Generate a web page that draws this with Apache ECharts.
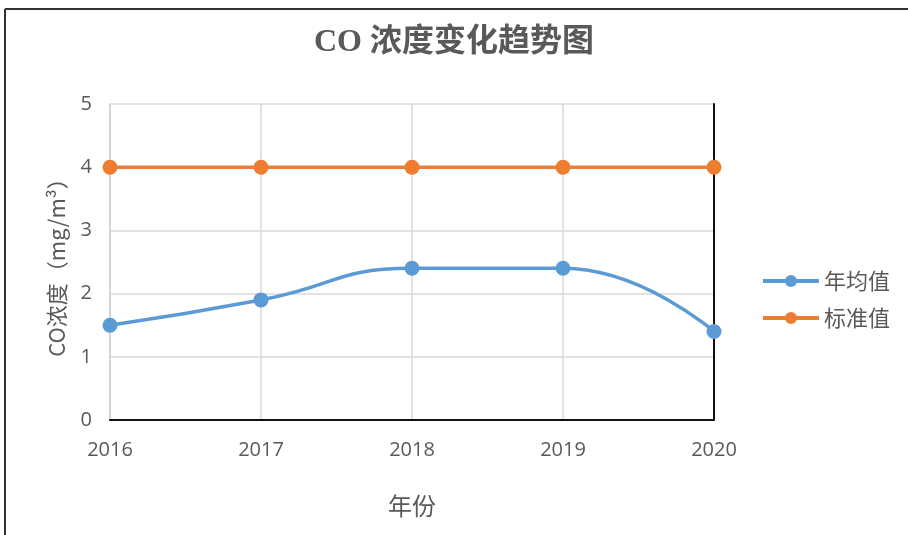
<!DOCTYPE html>
<html>
<head>
<meta charset="utf-8">
<script src="https://cdn.jsdelivr.net/npm/echarts@6/dist/echarts.min.js"></script>
<style>
html,body{margin:0;padding:0;background:#fff;}
#chart{width:908px;height:535px;}
</style>
</head>
<body>
<div id="chart"></div>
<script>
var years = ['2016', '2017', '2018', '2019', '2020'];
var annualAvg = [1.5, 1.9, 2.4, 2.4, 1.4];
var standard = [4, 4, 4, 4, 4];

var myChart = echarts.init(document.getElementById('chart'));
var txt = '#595959';
var cjk = "'Noto Sans CJK SC', sans-serif";

myChart.setOption({
    animation: false,
    title: {
        text: 'CO 浓度变化趋势图',
        left: 'center',
        top: 22,
        textStyle: {
            fontFamily: "'Liberation Serif', 'Noto Sans CJK SC', serif",
            fontSize: 32,
            fontWeight: 'bold',
            color: txt
        }
    },
    legend: {
        orient: 'vertical',
        left: 756,
        top: 265,
        itemWidth: 56,
        itemHeight: 15,
        itemGap: 15,
        lineStyle: {width: 4},
        textStyle: {fontFamily: cjk, fontSize: 22, color: txt},
        data: ['年均值', '标准值']
    },
    graphic: [
        {type: 'line', shape: {x1: 5, y1: 9, x2: 908, y2: 9}, style: {stroke: '#333', lineWidth: 2}},
        {type: 'line', shape: {x1: 5, y1: 9, x2: 5, y2: 535}, style: {stroke: '#333', lineWidth: 2}}
    ],
    grid: {left: 110, right: 194, top: 104, bottom: 115},
    xAxis: [{
        type: 'category',
        data: years,
        boundaryGap: false,
        name: '年份',
        nameLocation: 'middle',
        nameGap: 74,
        nameTextStyle: {fontFamily: cjk, fontSize: 24, color: txt},
        axisLine: {lineStyle: {color: '#d0d0d0', width: 1.5}},
        axisTick: {show: false},
        axisLabel: {fontFamily: "'Open Sans', sans-serif", fontSize: 20, color: txt, margin: 20},
        splitLine: {show: true, lineStyle: {color: '#d9d9d9', width: 1.5}}
    }, {
        type: 'category',
        data: years,
        boundaryGap: false,
        position: 'top',
        axisLine: {lineStyle: {color: '#111', width: 2}},
        axisTick: {show: false},
        axisLabel: {show: false}
    }],
    yAxis: [{
        type: 'value',
        min: 0,
        max: 5,
        interval: 1,
        name: 'CO浓度（mg/m³）',
        nameLocation: 'middle',
        nameGap: 42,
        nameTextStyle: {fontFamily: cjk, fontSize: 22, color: txt},
        axisLine: {show: true, lineStyle: {color: '#d0d0d0', width: 1.5}},
        axisTick: {show: false},
        axisLabel: {fontFamily: "'Open Sans', sans-serif", fontSize: 20, color: txt, margin: 18},
        splitLine: {lineStyle: {color: '#d9d9d9', width: 1.5}}
    }, {
        type: 'value',
        min: 0,
        max: 5,
        interval: 1,
        position: 'right',
        axisLine: {show: true, lineStyle: {color: '#111', width: 2}},
        axisTick: {show: false},
        axisLabel: {show: false},
        splitLine: {show: false}
    }],
    series: [{
        name: '年均值',
        type: 'line',
        data: annualAvg,
        smooth: 0.5,
        symbol: 'circle',
        symbolSize: 15,
        itemStyle: {color: '#5B9BD5'},
        lineStyle: {color: '#5B9BD5', width: 3.5}
    }, {
        name: '标准值',
        type: 'line',
        data: standard,
        symbol: 'circle',
        symbolSize: 15,
        itemStyle: {color: '#ED7D31'},
        lineStyle: {color: '#ED7D31', width: 3.5}
    }]
});
</script>
</body>
</html>
